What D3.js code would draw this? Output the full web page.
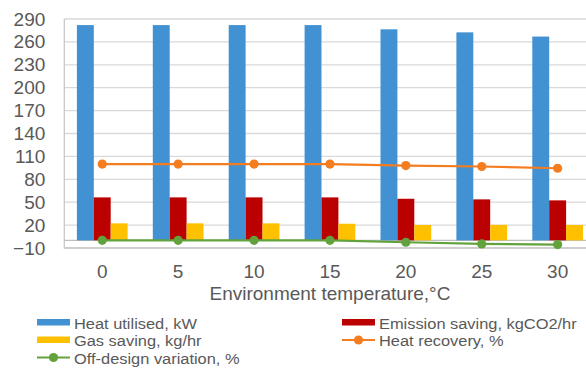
<!DOCTYPE html>
<html>
<head>
<meta charset="utf-8">
<script src="https://cdn.jsdelivr.net/npm/d3@7/dist/d3.min.js"></script>
<style>
  html, body { margin: 0; padding: 0; background: #fff; }
  svg { display: block; font-family: "Liberation Sans", Arial, sans-serif; }
</style>
</head>
<body>
<svg id="chart" width="586" height="369"></svg>
<script>
// Environment temperature, °C
const temperatures = ["0", "5", "10", "15", "20", "25", "30"];

// Bar series
const heatUtilised    = [282, 282, 282, 282, 276.5, 272.5, 267];   // kW
const emissionSaving  = [56.3, 56.3, 56.3, 56.3, 54.5, 53.7, 52.4]; // kgCO2/hr
const gasSaving       = [22.3, 22.3, 22.3, 21.8, 20.2, 20.3, 20.2]; // kg/hr

// Line series
const heatRecovery       = [100, 100, 100, 100, 98, 96.8, 94.5];  // %
const offDesignVariation = [0, 0, 0, 0, -2.5, -4.6, -5.5];        // %

// Value axis tick labels
const yTicks = [-10, 20, 50, 80, 110, 140, 170, 200, 230, 260, 290];

const barSeries = [
  { name: "Heat utilised, kW", values: heatUtilised, color: "#4191d3" },
  { name: "Emission saving, kgCO2/hr", values: emissionSaving, color: "#bb0000" },
  { name: "Gas saving, kg/hr", values: gasSaving, color: "#ffc000" }
];
const lineSeries = [
  { name: "Heat recovery, %", values: heatRecovery, color: "#f47d20" },
  { name: "Off-design variation, %", values: offDesignVariation, color: "#62a23c" }
];

const svg = d3.select("#chart");
const textColor = "#595959";
const gridColor = "#d9d9d9";

const plot = { left: 64.3, right: 595.6, top: 19, bottom: 248 };

const x = d3.scaleBand()
  .domain(temperatures)
  .range([plot.left, plot.right]);

const bw = x.bandwidth();
const xInner = d3.scaleBand()
  .domain(barSeries.map(s => s.name))
  .range([bw * 0.166, bw * 0.834]);

const y = d3.scaleLinear()
  .domain([-10, 290])
  .range([plot.bottom, plot.top]);

// Horizontal gridlines
svg.append("g")
  .selectAll("line")
  .data(yTicks)
  .join("line")
  .attr("x1", plot.left).attr("x2", plot.right)
  .attr("y1", d => y(d)).attr("y2", d => y(d))
  .attr("stroke", gridColor)
  .attr("stroke-width", 1.3);

// Plot area frame (left and bottom edges)
svg.append("path")
  .attr("d", `M${plot.left},${plot.top}V${plot.bottom}H${plot.right}`)
  .attr("fill", "none")
  .attr("stroke", "#c8c8c8")
  .attr("stroke-width", 1.3);

// Category axis line at zero
svg.append("line")
  .attr("x1", plot.left).attr("x2", plot.right)
  .attr("y1", y(0)).attr("y2", y(0))
  .attr("stroke", "#bfbfbf")
  .attr("stroke-width", 1.3);

// Bars
const groups = svg.append("g")
  .selectAll("g")
  .data(temperatures)
  .join("g")
  .attr("transform", d => `translate(${x(d)},0)`);

groups.selectAll("rect")
  .data((d, i) => barSeries.map(s => ({ name: s.name, color: s.color, v: s.values[i] })))
  .join("rect")
  .attr("x", d => xInner(d.name))
  .attr("width", xInner.bandwidth())
  .attr("y", d => y(Math.max(0, d.v)))
  .attr("height", d => Math.abs(y(d.v) - y(0)))
  .attr("fill", d => d.color);

// Lines with markers
const line = d3.line()
  .x((d, i) => x(temperatures[i]) + bw / 2)
  .y(d => y(d));

lineSeries.forEach(s => {
  svg.append("path")
    .datum(s.values)
    .attr("d", line)
    .attr("fill", "none")
    .attr("stroke", s.color)
    .attr("stroke-width", 2.2);
  svg.append("g")
    .selectAll("circle")
    .data(s.values)
    .join("circle")
    .attr("cx", (d, i) => x(temperatures[i]) + bw / 2)
    .attr("cy", d => y(d))
    .attr("r", 4.6)
    .attr("fill", s.color);
});

// Value axis labels
const yAxis = svg.append("g")
  .attr("transform", `translate(${plot.left},0)`)
  .call(d3.axisLeft(y).tickValues(yTicks).tickSize(0).tickPadding(19));
yAxis.select(".domain").remove();
yAxis.selectAll("text")
  .attr("fill", textColor)
  .style("font-size", "19px")
  .style("font-family", "'Liberation Sans', Arial, sans-serif");

// Category axis labels
const xAxis = svg.append("g")
  .attr("transform", `translate(0,${plot.bottom})`)
  .call(d3.axisBottom(x).tickSize(0).tickPadding(16.5));
xAxis.select(".domain").remove();
xAxis.selectAll("text")
  .attr("fill", textColor)
  .style("font-size", "19px")
  .style("font-family", "'Liberation Sans', Arial, sans-serif");

// Axis title
svg.append("text")
  .attr("x", (plot.left + plot.right) / 2)
  .attr("y", 299.8)
  .attr("text-anchor", "middle")
  .attr("fill", textColor)
  .style("font-size", "19px")
  .text("Environment temperature,\u00b0C");

// Legend: two columns, three rows
const legendItems = [
  { name: barSeries[0].name, color: barSeries[0].color, type: "bar", x: 37, y: 328.5 },
  { name: barSeries[1].name, color: barSeries[1].color, type: "bar", x: 342, y: 328.5 },
  { name: barSeries[2].name, color: barSeries[2].color, type: "bar", x: 37, y: 346 },
  { name: lineSeries[0].name, color: lineSeries[0].color, type: "line", x: 342, y: 346 },
  { name: lineSeries[1].name, color: lineSeries[1].color, type: "line", x: 37, y: 363.5 }
];

const legend = svg.append("g")
  .selectAll("g")
  .data(legendItems)
  .join("g")
  .attr("transform", d => `translate(${d.x},${d.y})`);

legend.filter(d => d.type === "bar")
  .append("rect")
  .attr("x", 0).attr("y", -9.5)
  .attr("width", 33).attr("height", 6.5)
  .attr("fill", d => d.color);

legend.filter(d => d.type === "line")
  .append("line")
  .attr("x1", 0).attr("x2", 33)
  .attr("y1", -6).attr("y2", -6)
  .attr("stroke", d => d.color)
  .attr("stroke-width", 2.2);

legend.filter(d => d.type === "line")
  .append("circle")
  .attr("cx", 16.5).attr("cy", -6)
  .attr("r", 4.6)
  .attr("fill", d => d.color);

// Labels are slightly widened so the compact rows keep their run length
legend.append("g")
  .attr("transform", "translate(37,0) scale(1.08,1)")
  .append("text")
  .attr("x", 0)
  .attr("y", 0)
  .attr("fill", textColor)
  .style("font-size", "15.2px")
  .text(d => d.name);
</script>
</body>
</html>
